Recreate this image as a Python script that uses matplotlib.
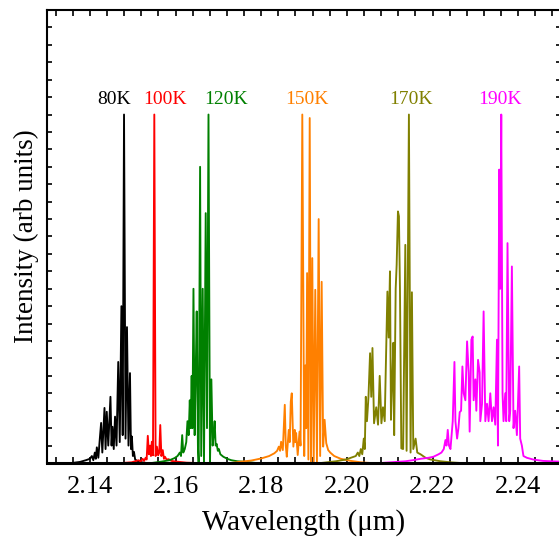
import matplotlib
matplotlib.use("Agg")
from matplotlib import pyplot as plt
from matplotlib.ticker import MultipleLocator

plt.rcParams['font.family'] = ['Liberation Serif', 'DejaVu Serif']

# spectra: wavelength (um), intensity (normalised to tallest line)
wl_80 = [2.13581, 2.13767, 2.13907, 2.14000, 2.14047, 2.14081, 2.14116, 2.14140, 2.14163, 2.14198,
         2.14233, 2.14263, 2.14291, 2.14342, 2.14367, 2.14395, 2.14430, 2.14481, 2.14507, 2.14528,
         2.14558, 2.14588, 2.14623, 2.14663, 2.14698, 2.14737, 2.14767, 2.14798, 2.14833, 2.14867,
         2.14902, 2.14937, 2.14960, 2.14981, 2.15005, 2.15030, 2.15058, 2.15116, 2.15209, 2.15326]
int_80 = [0.0, 0.003, 0.008, 0.012, 0.02, 0.008, 0.03, 0.012, 0.045, 0.015,
          0.07, 0.115, 0.03, 0.158, 0.04, 0.147, 0.05, 0.19, 0.05, 0.104,
          0.04, 0.133, 0.05, 0.29, 0.06, 0.45, 0.08, 1.0, 0.07, 0.39,
          0.05, 0.258, 0.04, 0.076, 0.02, 0.032, 0.01, 0.005, 0.002, 0.0]

wl_100 = [2.14744, 2.14977, 2.15140, 2.15186, 2.15233, 2.15267, 2.15302, 2.15326, 2.15353, 2.15379,
          2.15407, 2.15426, 2.15447, 2.15474, 2.15505, 2.15535, 2.15565, 2.15595, 2.15621, 2.15644,
          2.15670, 2.15702, 2.15730, 2.15753, 2.15791, 2.15837, 2.15907, 2.16023, 2.16256, 2.16488]
int_100 = [0.0, 0.002, 0.008, 0.004, 0.012, 0.006, 0.015, 0.01, 0.078, 0.025,
           0.05, 0.02, 0.061, 0.022, 1.0, 0.02, 0.047, 0.022, 0.03, 0.109,
           0.02, 0.037, 0.012, 0.018, 0.01, 0.011, 0.006, 0.004, 0.001, 0.0]

wl_120 = [2.15442, 2.15674, 2.15860, 2.15977, 2.16047, 2.16100, 2.16128, 2.16156, 2.16181, 2.16216,
          2.16251, 2.16279, 2.16307, 2.16333, 2.16353, 2.16377, 2.16395, 2.16419, 2.16447, 2.16470,
          2.16495, 2.16523, 2.16540, 2.16574, 2.16600, 2.16635, 2.16665, 2.16705, 2.16735, 2.16770,
          2.16805, 2.16837, 2.16867, 2.16891, 2.16914, 2.16937, 2.16960, 2.16988, 2.17012, 2.17047,
          2.17116, 2.17209, 2.17302, 2.17442, 2.17651, 2.17884]
int_120 = [0.0, 0.004, 0.008, 0.014, 0.02, 0.03, 0.02, 0.08, 0.03, 0.04,
           0.06, 0.12, 0.08, 0.18, 0.1, 0.25, 0.1, 0.50, 0.08, 0.25,
           0.435, 0.05, 0.0, 0.85, 0.02, 0.50, 0.0, 0.717, 0.1, 1.0,
           0.0, 0.24, 0.05, 0.08, 0.12, 0.05, 0.055, 0.035, 0.04, 0.025,
           0.018, 0.012, 0.008, 0.005, 0.003, 0.0]

wl_150 = [2.17302, 2.17535, 2.17767, 2.18000, 2.18186, 2.18309, 2.18372, 2.18412, 2.18442, 2.18465,
          2.18505, 2.18551, 2.18574, 2.18598, 2.18644, 2.18667, 2.18691, 2.18714, 2.18751, 2.18784,
          2.18800, 2.18816, 2.18853, 2.18895, 2.18919, 2.18960, 2.19005, 2.19030, 2.19051, 2.19072,
          2.19102, 2.19133, 2.19163, 2.19193, 2.19226, 2.19263, 2.19302, 2.19342, 2.19377, 2.19412,
          2.19447, 2.19481, 2.19519, 2.19565, 2.19612, 2.19705, 2.19860, 2.20093, 2.20326, 2.20558]
int_150 = [0.0, 0.004, 0.007, 0.013, 0.02, 0.028, 0.035, 0.047, 0.035, 0.061,
           0.037, 0.167, 0.05, 0.018, 0.095, 0.06, 0.176, 0.20, 0.047, 0.095,
           0.06, 0.086, 0.023, 0.09, 0.05, 1.0, 0.02, 0.28, 0.1, 0.545,
           0.01, 0.99, 0.0, 0.588, 0.0, 0.497, 0.0, 0.70, 0.02, 0.52,
           0.047, 0.124, 0.057, 0.037, 0.03, 0.02, 0.012, 0.006, 0.002, 0.0]

wl_170 = [2.19395, 2.19744, 2.19977, 2.20093, 2.20209, 2.20256, 2.20291, 2.20326, 2.20360, 2.20395,
          2.20419, 2.20442, 2.20470, 2.20505, 2.20542, 2.20570, 2.20598, 2.20635, 2.20686, 2.20728,
          2.20767, 2.20807, 2.20844, 2.20884, 2.20907, 2.20947, 2.20977, 2.21007, 2.21030, 2.21063,
          2.21086, 2.21105, 2.21140, 2.21163, 2.21193, 2.21216, 2.21240, 2.21272, 2.21314, 2.21365,
          2.21395, 2.21449, 2.21488, 2.21519, 2.21551, 2.21605, 2.21644, 2.21721, 2.21837, 2.21953,
          2.22186, 2.22419, 2.22651]
int_170 = [0.0, 0.005, 0.01, 0.015, 0.02, 0.03, 0.02, 0.04, 0.025, 0.07,
           0.04, 0.19, 0.12, 0.19, 0.315, 0.19, 0.33, 0.114, 0.16, 0.11,
           0.25, 0.114, 0.16, 0.12, 0.258, 0.492, 0.36, 0.55, 0.124, 0.25,
           0.345, 0.08, 0.5, 0.569, 0.722, 0.708, 0.5, 0.042, 0.04, 0.626,
           0.035, 1.0, 0.03, 0.49, 0.04, 0.07, 0.03, 0.025, 0.015, 0.01,
           0.005, 0.002, 0.0]

wl_190 = [2.20791, 2.21140, 2.21372, 2.21535, 2.21721, 2.21907, 2.22023, 2.22140, 2.22209, 2.22263,
          2.22302, 2.22326, 2.22356, 2.22384, 2.22419, 2.22472, 2.22512, 2.22535, 2.22574, 2.22605,
          2.22635, 2.22667, 2.22698, 2.22728, 2.22767, 2.22807, 2.22844, 2.22867, 2.22907, 2.22937,
          2.22960, 2.23000, 2.23023, 2.23063, 2.23100, 2.23116, 2.23156, 2.23193, 2.23233, 2.23272,
          2.23309, 2.23349, 2.23388, 2.23426, 2.23465, 2.23505, 2.23528, 2.23558, 2.23581, 2.23605,
          2.23635, 2.23658, 2.23698, 2.23721, 2.23751, 2.23791, 2.23814, 2.23853, 2.23891, 2.23930,
          2.23970, 2.24023, 2.24047, 2.24086, 2.24123, 2.24202, 2.24349, 2.24581, 2.24953]
int_190 = [0.0, 0.003, 0.005, 0.008, 0.012, 0.015, 0.018, 0.025, 0.03, 0.04,
           0.066, 0.05, 0.095, 0.05, 0.04, 0.12, 0.29, 0.12, 0.07, 0.1,
           0.146, 0.15, 0.277, 0.2, 0.18, 0.349, 0.26, 0.09, 0.354, 0.363,
           0.18, 0.24, 0.15, 0.296, 0.26, 0.12, 0.17, 0.435, 0.12, 0.17,
           0.12, 0.2, 0.12, 0.16, 0.11, 0.354, 0.05, 0.842, 0.5, 1.0,
           0.2, 0.12, 0.2, 0.12, 0.631, 0.12, 0.15, 0.564, 0.1, 0.15,
           0.08, 0.277, 0.07, 0.05, 0.02, 0.015, 0.01, 0.006, 0.004]

labels = ["80K", "100K", "120K", "150K", "170K", "190K"]
colors = ["black", "red", "green", "#ff8000", "olive", "magenta"]
label_x = [2.14570, 2.15756, 2.17186, 2.19070, 2.21500, 2.23581]
label_y = 1.029

spectra = [(wl_80, int_80), (wl_100, int_100), (wl_120, int_120),
           (wl_150, int_150), (wl_170, int_170), (wl_190, int_190)]

fig = plt.figure(figsize=(5.59, 5.37), dpi=100)
ax = fig.add_axes([0.0841, 0.1378, 0.9195, 0.8436])

for (wl, inten), c in zip(spectra, colors):
    ax.plot(wl, inten, color=c, lw=1.35)

for txt, x, c in zip(labels, label_x, colors):
    ax.text(x, label_y, txt, color=c, fontsize=14, ha="center", va="baseline")

ax.set_xlim(2.13, 2.25)
ax.set_ylim(0, 1.30)
ax.xaxis.set_major_locator(MultipleLocator(0.02))
ax.xaxis.set_minor_locator(MultipleLocator(0.004))
ax.yaxis.set_major_locator(MultipleLocator(0.05))
ax.set_yticklabels([])
ax.set_xticks([2.14, 2.16, 2.18, 2.20, 2.22, 2.24])
ax.set_xticklabels(["2.14", "2.16", "2.18", "2.20", "2.22", "2.24"])
ax.tick_params(axis="x", which="both", direction="in", top=True, length=4, width=1.2,
               labelsize=19, pad=9)
ax.tick_params(axis="y", which="both", direction="in", right=True, length=3.5, width=1.2)
for s in ax.spines.values():
    s.set_linewidth(1.5)
ax.spines["bottom"].set_linewidth(2.2)

ax.set_xlabel("Wavelength (μm)", fontsize=21, labelpad=8)
ax.set_ylabel("Intensity (arb units)", fontsize=19.5, labelpad=2)

fig.savefig("out.png", dpi=100)
